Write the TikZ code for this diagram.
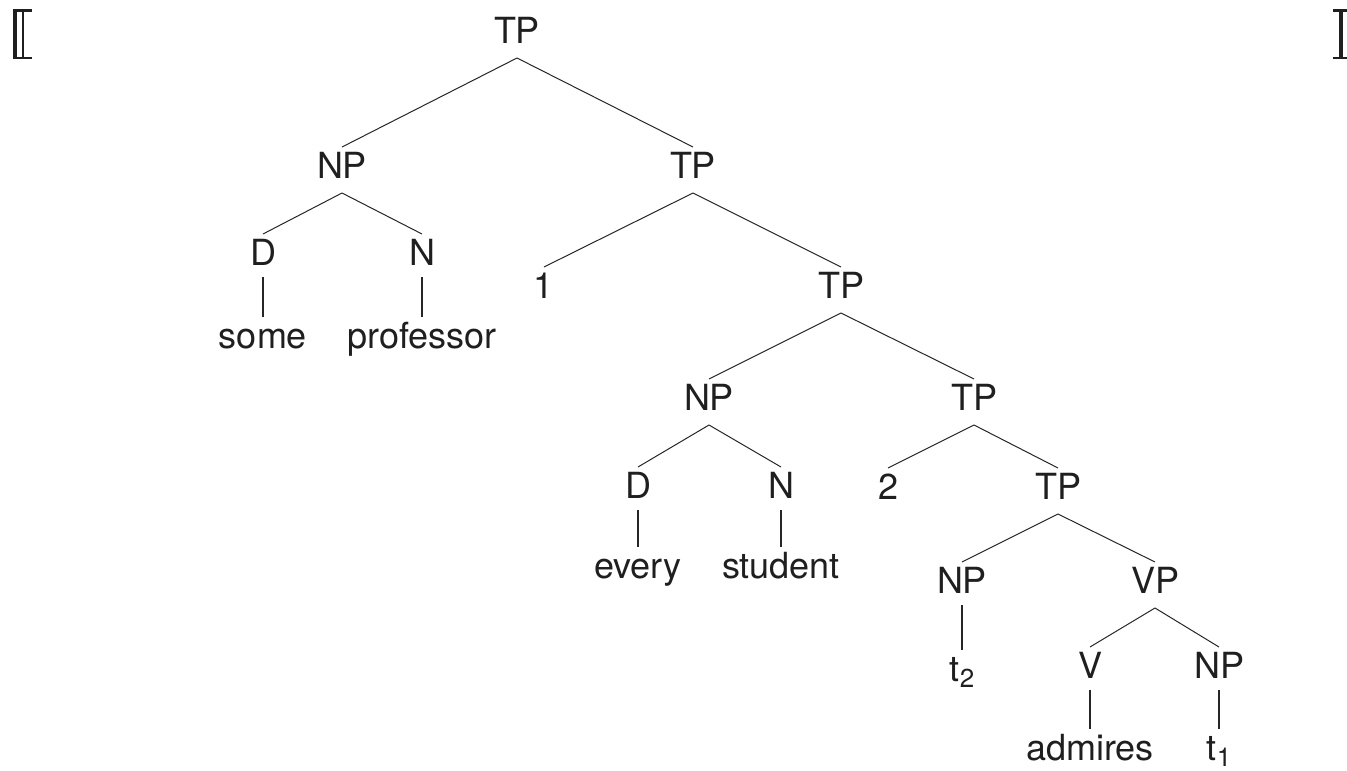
\documentclass[tikz,border=0pt]{standalone}
\usepackage{fontspec}
\setmainfont{TeX Gyre Heros}
\usetikzlibrary{calc}
\newcommand\tedge[2]{\draw[edge] ($(#1.base)+(0,15)$) -- ($(#2.base)+(0,-31)$);}
\newcommand\uedge[2]{\draw[uedge] ($(#1.base)+(0,12)$) -- ($(#2.base)+(0,-31)$);}
\newcommand\subs[1]{\raisebox{-0.18em}{\fontsize{26}{26}\selectfont #1}}
\begin{document}
\begin{tikzpicture}[x=1pt,y=-1pt,
  lab/.style={anchor=base,inner sep=0pt,text=black!88,font=\fontsize{36}{42}\selectfont},
  edge/.style={line width=1pt,black!85},
  uedge/.style={line width=1.4pt,black!85},
  brk/.style={fill=black!88}]
\useasboundingbox (0,0) rectangle (1347,771);
% brackets
\fill[brk] (13.3,9) rectangle (17.3,59);
\fill[brk] (21.7,9) rectangle (24,59);
\fill[brk] (13.3,9) rectangle (32.3,11.5);
\fill[brk] (13.3,56.7) rectangle (32.3,59);
\fill[brk] (1338.7,8.5) rectangle (1342.7,59);
\fill[brk] (1332.7,8.5) rectangle (1347,11.5);
\fill[brk] (1332.7,56.5) rectangle (1347,59);
% nodes
\node[lab] (root) at (517,43) {TP};
\node[lab] (np1) at (342,178) {NP};
\node[lab] (tp1) at (693,178) {TP};
\node[lab] (d1) at (263,265) {D};
\node[lab] (n1) at (422,265) {N};
\node[lab] (some) at (263,348) {some};
\node[lab] (prof) at (422,348) {professor};
\node[lab] (one) at (544,298) {1};
\node[lab] (tp2) at (841,298) {TP};
\node[lab] (np2) at (709,410) {NP};
\node[lab] (tp3) at (974,410) {TP};
\node[lab] (d2) at (638,498) {D};
\node[lab] (n2) at (781,498) {N};
\node[lab] (every) at (638,578) {every};
\node[lab] (student) at (781,578) {student};
\node[lab] (two) at (888,499) {2};
\node[lab] (tp4) at (1058,499) {TP};
\node[lab] (np3) at (962,593) {NP};
\node[lab] (vp) at (1155,593) {VP};
\node[lab] (t2) at (962,681) {t\subs{2}};
\node[lab] (v) at (1090,678) {V};
\node[lab] (np4) at (1219,678) {NP};
\node[lab] (admires) at (1090,760) {admires};
\node[lab] (t1) at (1219,760) {t\subs{1}};
% edges
\tedge{root}{np1}
\tedge{root}{tp1}
\tedge{np1}{d1}
\tedge{np1}{n1}
\uedge{d1}{some}
\uedge{n1}{prof}
\tedge{tp1}{one}
\tedge{tp1}{tp2}
\tedge{tp2}{np2}
\tedge{tp2}{tp3}
\tedge{np2}{d2}
\tedge{np2}{n2}
\uedge{d2}{every}
\uedge{n2}{student}
\tedge{tp3}{two}
\tedge{tp3}{tp4}
\tedge{tp4}{np3}
\tedge{tp4}{vp}
\uedge{np3}{t2}
\tedge{vp}{v}
\tedge{vp}{np4}
\uedge{v}{admires}
\uedge{np4}{t1}
\end{tikzpicture}
\end{document}
